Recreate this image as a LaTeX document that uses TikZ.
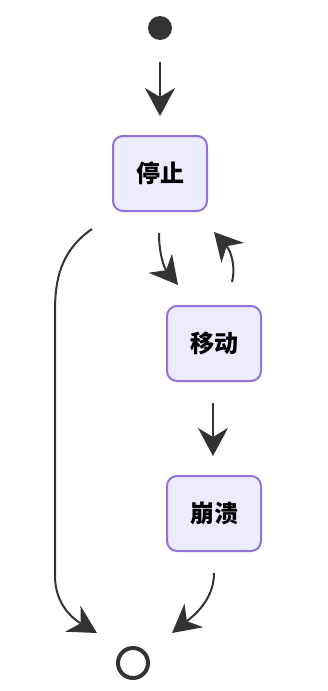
\documentclass[tikz,border=0pt]{standalone}
\usepackage{fontspec}
\newfontfamily\cjk{Noto Sans CJK SC}
\usepackage{tikz}
\usetikzlibrary{arrows.meta,positioning,calc}
\definecolor{statefill}{HTML}{ECECFF}
\definecolor{stateline}{HTML}{9370DB}
\definecolor{edgegray}{HTML}{333333}
\tikzset{
	state/.style={
		rectangle,
		draw=stateline,
		fill=statefill,
		line width=2pt,
		rounded corners=10pt,
		minimum width=94pt,
		minimum height=75pt,
		inner sep=0pt,
		font=\cjk\bfseries\fontsize{24}{28}\selectfont
	},
	startdot/.style={
		circle,
		fill=edgegray,
		minimum size=24pt,
		inner sep=0pt
	},
	enddot/.style={
		circle,
		draw=edgegray,
		line width=4pt,
		minimum size=30pt,
		inner sep=0pt
	},
	conn/.style={
		-{Stealth[length=28pt,width=30pt,inset=9pt]},
		draw=edgegray,
		line width=2pt
	}
}
\begin{document}
\begin{tikzpicture}[x=1pt,y=-1pt]
	\useasboundingbox (0,0) rectangle (328,691);
	
	% Nodes
	\node[startdot] (start) at (160,28) {};
	\node[state] (stop) at (160,173.5) {停止};
	\node[state] (move) at (214,343.5) {移动};
	\node[state] (crash) at (214,513.5) {崩溃};
	\node[enddot] (end) at (133,663) {};
	
	% Connections
	\draw[conn] ($(start.south)+(0,22)$) -- ($(stop.north)+(0,-19)$);
	\draw[conn] ($(stop.south)+(-1,21)$) .. controls +(0,23) and +(-13,-16) .. ($(move.north)+(-36,-20)$);
	\draw[conn] ($(move.north)+(18,-23)$) .. controls +(4,-15) and +(17,19) .. ($(stop.south)+(54,20)$);
	\draw[conn] ($(move.south)+(-1,21)$) -- ($(crash.north)+(-1,-19)$);
	\draw[conn] ($(stop.south)+(-68,17)$) .. controls +(-32,22) and +(0,-30) .. ++(-37,82)
		-- ++(0,265) .. controls +(0,30) and +(-22,-13) .. ($(end.north)+(-36,-13)$);
	\draw[conn] ($(crash.south)+(0,21)$) .. controls +(0,28) and +(20,-16) .. ($(end.north)+(39,-13)$);
	
\end{tikzpicture}
\end{document}
